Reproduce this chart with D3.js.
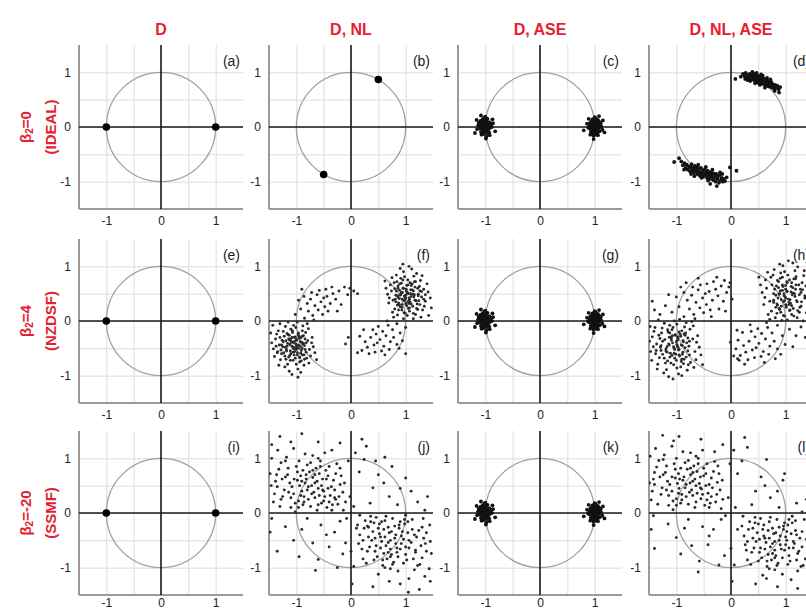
<!DOCTYPE html>
<html>
<head>
<meta charset="utf-8">
<script src="https://cdn.jsdelivr.net/npm/d3@7/dist/d3.min.js"></script>
<style>
  html, body { margin: 0; padding: 0; background: #fff; }
  svg { display: block; font-family: "Liberation Sans", Arial, sans-serif; }
</style>
</head>
<body>
<svg id="chart" width="806" height="612"></svg>
<script>
// ---------------- DATA ----------------
const colTitles = ["D", "D, NL", "D, ASE", "D, NL, ASE"];
const rowBeta = ["0", "4", "-20"];
const rowFiber = ["(IDEAL)", "(NZDSF)", "(SSMF)"];
const panelLetters = ["a","b","c","d","e","f","g","h","i","j","k","l"];
const tickLabels = [-1, 0, 1];
const gridValues = [-1, -0.5, 0, 0.5, 1];
const axisDomain = [-1.5, 1.5];

// ideal BPSK symbols
const symD = [[-1, 0], [1, 0]];
// symbols after nonlinear phase rotation
const symNL = [[0.50, 0.87], [-0.50, -0.87]];

// ASE-only clouds (D, ASE) - same look in c, g, k
const aseRight = [[1.02,0.03],[0.97,-0.05],[1.05,0.08],[0.93,0.01],[1.08,-0.02],[0.99,0.11],[1.01,-0.09],[0.95,0.06],[1.10,0.04],[0.96,-0.12],
[1.04,-0.06],[0.91,-0.03],[1.00,0.00],[1.06,0.13],[0.98,0.07],[1.03,-0.14],[0.94,0.10],[1.09,-0.08],[1.01,0.05],[0.97,0.02],
[1.12,0.01],[0.92,0.08],[1.05,-0.11],[0.99,-0.02],[1.07,0.06],[0.95,-0.07],[1.02,0.16],[0.88,-0.01],[1.03,0.09],[1.00,-0.05],
[0.96,0.14],[1.14,-0.05],[0.98,-0.16],[1.06,0.02],[0.93,-0.09],[1.01,0.12],[1.08,0.10],[0.90,0.04],[1.04,-0.01],[0.97,-0.10],
[1.11,0.07],[0.99,0.04],[1.02,-0.03],[0.94,0.00],[1.06,-0.15],[1.00,0.18],[0.86,0.06],[1.15,0.12],[0.92,-0.14],[1.03,0.05],
[0.80,-0.06],[1.18,-0.10],[0.98,-0.22],[1.08,0.20],[0.89,0.15]];
const aseLeft = [[-1.01,0.02],[-0.96,-0.04],[-1.06,0.07],[-0.94,0.03],[-1.09,-0.03],[-0.99,0.12],[-1.02,-0.08],[-0.95,0.05],[-1.11,0.02],[-0.97,-0.11],
[-1.04,-0.05],[-0.92,-0.02],[-1.00,0.01],[-1.05,0.14],[-0.98,0.08],[-1.03,-0.13],[-0.93,0.09],[-1.08,-0.09],[-1.01,0.06],[-0.97,0.00],
[-1.13,0.03],[-0.91,0.07],[-1.05,-0.12],[-0.99,-0.03],[-1.07,0.05],[-0.95,-0.08],[-1.02,0.17],[-0.88,0.00],[-1.03,0.10],[-1.00,-0.06],
[-0.96,0.15],[-1.15,-0.04],[-0.98,-0.17],[-1.06,0.01],[-0.93,-0.10],[-1.01,0.11],[-1.09,0.11],[-0.90,0.05],[-1.04,-0.02],[-0.97,-0.09],
[-1.12,0.08],[-0.99,0.03],[-1.02,-0.04],[-0.94,-0.01],[-1.07,-0.14],[-1.00,0.19],[-0.86,0.07],[-1.16,0.13],[-0.92,-0.15],[-1.03,0.04],
[-0.82,-0.08],[-1.19,-0.11],[-0.99,-0.21],[-1.08,0.21],[-0.87,0.14]];

// (d) D, NL, ASE with beta2 = 0
const dUpper = [[0.22,0.97],[0.25,0.93],[0.27,0.99],[0.29,0.91],[0.31,0.95],[0.33,0.89],[0.34,0.97],[0.36,0.92],[0.37,0.86],[0.38,0.95],
[0.40,0.90],[0.41,0.98],[0.42,0.87],[0.43,0.93],[0.44,0.84],[0.45,0.91],[0.46,0.88],[0.47,0.95],[0.48,0.82],[0.49,0.89],
[0.50,0.86],[0.51,0.93],[0.52,0.84],[0.53,0.90],[0.54,0.80],[0.55,0.87],[0.56,0.83],[0.57,0.91],[0.58,0.79],[0.59,0.85],
[0.60,0.82],[0.61,0.88],[0.62,0.77],[0.63,0.84],[0.64,0.80],[0.65,0.86],[0.66,0.75],[0.67,0.82],[0.68,0.78],[0.69,0.84],
[0.70,0.74],[0.71,0.80],[0.72,0.77],[0.74,0.82],[0.75,0.72],[0.76,0.78],[0.78,0.75],[0.79,0.70],[0.81,0.77],[0.83,0.72],
[0.85,0.75],[0.87,0.69],[0.90,0.73],[0.35,0.84],[0.30,0.86],[0.47,0.99],[0.58,0.94],[0.44,0.80],[0.53,0.77],[0.72,0.87],
[0.62,0.72],[0.26,0.88],[0.39,1.01],[0.80,0.66],[0.88,0.63],[0.08,0.88],[0.18,0.92],[0.55,0.96],[0.66,0.90],[0.51,0.80]];
const dLower = [[-0.88,-0.70],[-0.85,-0.66],[-0.83,-0.75],[-0.81,-0.69],[-0.79,-0.78],[-0.77,-0.72],[-0.75,-0.81],[-0.74,-0.74],[-0.72,-0.68],[-0.71,-0.79],
[-0.69,-0.75],[-0.68,-0.84],[-0.66,-0.71],[-0.65,-0.80],[-0.64,-0.76],[-0.62,-0.86],[-0.61,-0.73],[-0.60,-0.81],[-0.58,-0.77],[-0.57,-0.89],
[-0.56,-0.84],[-0.55,-0.75],[-0.53,-0.87],[-0.52,-0.80],[-0.51,-0.91],[-0.49,-0.83],[-0.48,-0.77],[-0.47,-0.88],[-0.45,-0.84],[-0.44,-0.93],
[-0.43,-0.80],[-0.41,-0.89],[-0.40,-0.85],[-0.39,-0.95],[-0.37,-0.82],[-0.36,-0.91],[-0.35,-0.87],[-0.33,-0.97],[-0.32,-0.85],[-0.31,-0.93],
[-0.29,-0.89],[-0.28,-1.00],[-0.27,-0.86],[-0.25,-0.95],[-0.24,-0.91],[-0.22,-1.02],[-0.21,-0.88],[-0.19,-0.97],[-0.17,-0.93],[-0.15,-1.00],
[-0.13,-0.95],[-0.11,-0.99],[-0.26,-1.08],[-0.67,-0.90],[-0.73,-0.86],[-0.86,-0.78],[-0.54,-0.93],[-0.42,-0.98],[-0.60,-0.69],[-0.46,-0.73],
[-0.34,-0.78],[-0.20,-0.83],[-0.91,-0.63],[-1.04,-0.64],[-0.95,-0.57],[-0.02,-0.74],[0.10,-0.80],[-0.38,-1.04],[-0.16,-0.86],[-0.08,-0.92]];

// (f) D, NL with beta2 = 4
const fLeftCore = [[-1.05,-0.40],[-0.92,-0.31],[-1.18,-0.52],[-0.98,-0.58],[-1.22,-0.28],[-0.85,-0.45],[-1.10,-0.15],[-1.31,-0.44],[-0.96,-0.22],[-1.14,-0.66],
[-0.79,-0.36],[-1.02,-0.49],[-1.27,-0.60],[-0.89,-0.62],[-1.38,-0.33],[-1.08,-0.30],[-0.94,-0.75],[-1.20,-0.10],[-0.83,-0.21],[-1.12,-0.43],
[-0.99,-0.35],[-1.33,-0.18],[-0.76,-0.52],[-1.16,-0.79],[-0.88,-0.09],[-1.25,-0.47],[-1.04,-0.62],[-0.93,-0.46],[-1.42,-0.51],[-1.07,-0.21],
[-0.81,-0.68],[-1.19,-0.36],[-0.97,-0.88],[-1.29,-0.71],[-0.71,-0.30],[-1.11,-0.55],[-0.90,-0.39],[-1.36,-0.24],[-1.01,-0.12],[-0.86,-0.81],
[-1.23,-0.58],[-0.95,-0.28],[-1.45,-0.40],[-1.06,-0.72],[-0.78,-0.14],[-1.15,-0.25],[-0.91,-0.54],[-1.30,-0.05],[-1.00,-0.44],[-0.84,-0.33],
[-1.21,-0.84],[-1.09,-0.38],[-0.74,-0.64],[-1.34,-0.56],[-0.98,-0.02],[-1.13,-0.92],[-0.87,-0.27],[-1.26,-0.35],[-1.03,-0.56],[-0.69,-0.47],
[-1.40,-0.65],[-0.94,-0.67],[-1.17,-0.46],[-0.82,-0.57],[-1.08,-0.98],[-1.24,-0.19],[-0.96,-0.50],[-1.47,-0.22],[-1.02,-0.29],[-0.77,-0.77],
[-1.12,-0.63],[-0.89,-0.18],[-1.32,-0.81],[-1.05,-0.08],[-0.72,-0.40],[-1.19,-0.70],[-0.92,-0.94],[-1.37,-0.46],[-0.85,-0.70],[-1.10,-0.33],
[-0.66,-0.58],[-1.28,-0.53],[-1.00,-0.79],[-0.80,-0.05],[-1.15,-0.02],[-0.63,-0.71],[-1.43,-0.08],[-0.97,-1.03],[-1.06,-0.48],[-0.88,-0.42],
[-1.03,-0.37],[-0.96,-0.44],[-1.12,-0.35],[-1.00,-0.52],[-1.08,-0.46],[-0.93,-0.38],[-1.16,-0.41],[-1.04,-0.30],[-0.98,-0.62],[-1.20,-0.48],
[-0.90,-0.50],[-1.06,-0.57],[-1.13,-0.26],[-0.95,-0.31],[-1.24,-0.38],[-1.01,-0.42],[-0.87,-0.41],[-1.10,-0.60],[-1.18,-0.55],[-0.97,-0.25],
[-1.07,-0.18],[-0.92,-0.59],[-1.27,-0.44],[-1.02,-0.68],[-0.84,-0.52],[-1.14,-0.33],[-0.99,-0.47],[-1.21,-0.64],[-0.89,-0.28],[-1.05,-0.51],
[-1.11,-0.72],[-0.94,-0.66],[-1.30,-0.30],[-0.82,-0.40],[-1.09,-0.39],[-1.17,-0.23],[-0.91,-0.73],[-1.35,-0.58],[-1.00,-0.33],[-0.86,-0.62]];
const fLeftTail = [[-0.85,0.05],[-0.78,0.18],[-0.70,0.10],[-0.66,0.28],[-0.60,0.20],[-0.92,0.22],[-0.55,0.35],[-0.48,0.26],[-0.74,0.40],[-0.44,0.45],
[-0.38,0.32],[-0.62,0.48],[-0.90,0.58],[-0.33,0.50],[-0.52,0.12],[-0.28,0.40],[-1.02,0.12],[-0.58,0.56],[-0.22,0.55],[-0.80,0.32],
[-0.42,0.18],[-0.68,0.02],[-0.96,0.38],[-0.35,0.62],[-0.18,0.30],[-0.50,0.42],[-0.86,0.45],[-0.25,0.18],[-0.72,0.52],[-0.46,0.58],
[-0.02,0.60],[0.05,0.55],[-0.06,0.48],[0.12,0.50],[-0.12,0.62]];
const fRightCore = [[1.00,0.42],[0.88,0.30],[1.14,0.55],[0.95,0.60],[1.21,0.31],[0.82,0.47],[1.07,0.18],[1.29,0.44],[0.93,0.25],[1.12,0.68],
[0.77,0.38],[1.03,0.51],[1.25,0.63],[0.86,0.64],[1.36,0.36],[1.06,0.32],[0.91,0.78],[1.18,0.12],[0.80,0.22],[1.10,0.45],
[0.97,0.37],[1.31,0.20],[0.74,0.55],[1.15,0.82],[0.85,0.11],[1.23,0.49],[1.02,0.65],[0.90,0.48],[1.41,0.53],[1.05,0.23],
[0.79,0.70],[1.17,0.38],[0.96,0.90],[1.27,0.74],[0.69,0.33],[1.09,0.57],[0.88,0.41],[1.34,0.27],[0.99,0.14],[0.83,0.84],
[1.22,0.60],[0.93,0.30],[1.45,0.42],[1.04,0.75],[0.76,0.16],[1.13,0.27],[0.89,0.56],[1.28,0.07],[0.98,0.46],[0.82,0.35],
[1.20,0.87],[1.07,0.40],[0.72,0.66],[1.33,0.58],[0.96,0.04],[1.11,0.95],[0.85,0.29],[1.24,0.37],[1.01,0.58],[0.67,0.49],
[1.39,0.68],[0.92,0.69],[1.16,0.48],[0.80,0.59],[1.06,1.00],[1.22,0.21],[0.94,0.52],[1.47,0.24],[1.00,0.31],[0.75,0.79],
[1.10,0.65],[0.87,0.20],[1.30,0.83],[1.03,0.10],[0.70,0.42],[1.18,0.72],[0.90,0.96],[1.36,0.48],[0.84,0.72],[1.08,0.35],
[0.64,0.60],[1.26,0.55],[0.98,0.81],[0.78,0.07],[1.14,0.04],[0.62,0.73],[1.42,0.10],[0.95,1.04],[1.05,0.50],[0.86,0.44],
[0.98,0.45],[1.05,0.36],[0.91,0.48],[1.02,0.28],[1.09,0.50],[0.94,0.40],[1.15,0.44],[1.01,0.55],[0.87,0.33],[1.19,0.37],
[0.96,0.60],[1.07,0.24],[1.12,0.57],[0.92,0.52],[1.23,0.46],[0.99,0.39],[0.85,0.46],[1.10,0.31],[1.17,0.62],[1.04,0.66],
[0.93,0.20],[1.08,0.70],[1.26,0.30],[0.97,0.15],[0.83,0.55],[1.13,0.49],[1.00,0.47],[1.20,0.23],[0.89,0.68],[1.06,0.42],
[1.14,0.14],[0.95,0.75],[1.29,0.54],[0.81,0.40],[1.03,0.52],[1.16,0.72],[0.90,0.26],[1.33,0.40],[1.01,0.33],[0.86,0.60]];
const fRightTail = [[0.84,-0.05],[0.76,-0.16],[0.68,-0.08],[0.64,-0.27],[0.58,-0.19],[0.90,-0.22],[0.53,-0.34],[0.46,-0.24],[0.72,-0.38],[0.42,-0.44],
[0.36,-0.30],[0.60,-0.46],[0.88,-0.50],[0.30,-0.48],[0.50,-0.10],[0.26,-0.38],[1.00,-0.12],[0.56,-0.55],[0.20,-0.54],[0.78,-0.30],
[0.40,-0.16],[0.66,0.00],[0.94,-0.36],[0.33,-0.60],[0.16,-0.28],[0.48,-0.40],[0.84,-0.43],[0.23,-0.16],[0.70,-0.52],[0.44,-0.57],
[1.00,-0.60],[0.12,-0.58],[0.62,-0.62],[-0.05,-0.30],[-0.10,-0.42]];

// (h) D, NL, ASE with beta2 = 4
const hLeftCore = [[-1.00,-0.38],[-0.84,-0.26],[-1.19,-0.55],[-0.95,-0.62],[-1.27,-0.22],[-0.77,-0.46],[-1.12,-0.08],[-1.36,-0.42],[-0.90,-0.18],[-1.16,-0.73],
[-0.70,-0.33],[-1.04,-0.50],[-1.31,-0.67],[-0.86,-0.70],[-1.44,-0.29],[-1.07,-0.27],[-0.92,-0.84],[-1.22,-0.04],[-0.75,-0.15],[-1.13,-0.44],
[-0.97,-0.32],[-1.39,-0.12],[-0.66,-0.56],[-1.18,-0.89],[-0.82,-0.03],[-1.29,-0.48],[-1.03,-0.68],[-0.89,-0.45],[-1.47,-0.56],[-1.08,-0.16],
[-0.74,-0.76],[-1.21,-0.34],[-0.96,-0.97],[-1.34,-0.79],[-0.61,-0.27],[-1.11,-0.59],[-0.87,-0.38],[-1.41,-0.19],[-0.99,-0.06],[-0.80,-0.90],
[-1.25,-0.61],[-0.93,-0.24],[-1.49,-0.37],[-1.05,-0.80],[-0.69,-0.09],[-1.15,-0.20],[-0.88,-0.57],[-1.33,0.02],[-0.98,-0.46],[-0.79,-0.31],
[-1.23,-0.95],[-1.09,-0.35],[-0.64,-0.71],[-1.38,-0.60],[-0.94,0.03],[-1.14,-1.02],[-0.83,-0.22],[-1.30,-0.32],[-1.01,-0.61],[-0.58,-0.48],
[-1.45,-0.72],[-0.91,-0.74],[-1.17,-0.47],[-0.76,-0.62],[-1.06,-1.06],[-1.26,-0.13],[-0.95,-0.52],[-1.48,-0.10],[-1.02,-0.25],[-0.68,-0.85],
[-1.12,-0.66],[-0.85,-0.11],[-1.35,-0.88],[-1.04,0.00],[-0.63,-0.39],[-1.20,-0.77],[-0.90,-1.00],[-1.42,-0.47],[-0.78,-0.80],[-1.10,-0.29],
[-0.55,-0.62],[-1.28,-0.54],[-0.99,-0.86],[-0.72,-0.01],[-0.52,-0.80],
[-0.98,-0.35],[-0.91,-0.44],[-1.09,-0.31],[-0.96,-0.53],[-1.05,-0.47],[-0.88,-0.36],[-1.14,-0.42],[-1.02,-0.26],[-0.94,-0.64],[-1.19,-0.51],
[-0.84,-0.49],[-1.04,-0.59],[-1.12,-0.22],[-0.92,-0.28],[-1.25,-0.37],[-0.99,-0.43],[-0.81,-0.40],[-1.08,-0.63],[-1.17,-0.57],[-0.95,-0.20],
[-1.06,-0.12],[-0.89,-0.61],[-1.28,-0.45],[-1.00,-0.72],[-0.79,-0.55],[-1.13,-0.30],[-0.97,-0.48],[-1.22,-0.68],[-0.86,-0.24],[-1.03,-0.52],
[-1.10,-0.77],[-0.90,-0.70],[-1.32,-0.26],[-0.76,-0.37],[-1.07,-0.40],[-1.16,-0.16],[-0.87,-0.78],[-1.37,-0.54],[-0.98,-0.29],[-0.82,-0.66]];
const hLeftTail = [[-0.86,0.08],[-0.76,0.22],[-0.68,0.12],[-0.64,0.34],[-0.57,0.24],[-0.95,0.26],[-0.52,0.42],[-0.45,0.30],[-0.72,0.47],[-0.40,0.54],
[-0.34,0.38],[-0.60,0.57],[-0.92,0.62],[-0.28,0.58],[-0.50,0.15],[-0.24,0.46],[-1.08,0.16],[-0.56,0.66],[-0.18,0.64],[-0.80,0.38],
[-0.38,0.20],[-0.66,0.04],[-1.00,0.44],[-0.32,0.72],[-0.14,0.36],[-0.47,0.50],[-0.86,0.52],[-0.22,0.22],[-0.70,0.62],[-0.44,0.68],
[-0.04,0.62],[0.02,0.40],[-0.08,0.52],[-1.20,0.28],[-1.44,0.36],[-1.30,0.12],[-1.14,0.48],[-0.60,0.78],[-0.26,0.80],[-0.10,0.18],
[-0.02,0.70],[-1.40,0.20],[-0.82,0.70],[-0.36,0.08],[-0.12,0.74]];
const hRightCore = [[1.00,0.42],[0.85,0.29],[1.18,0.58],[0.94,0.66],[1.26,0.25],[0.78,0.50],[1.11,0.12],[1.35,0.46],[0.89,0.21],[1.15,0.77],
[0.71,0.36],[1.03,0.54],[1.30,0.70],[0.85,0.74],[1.43,0.32],[1.06,0.30],[0.91,0.88],[1.21,0.06],[0.74,0.18],[1.12,0.48],
[0.96,0.35],[1.38,0.15],[0.65,0.60],[1.17,0.92],[0.81,0.06],[1.28,0.52],[1.02,0.72],[0.88,0.49],[1.46,0.60],[1.07,0.19],
[0.73,0.80],[1.20,0.37],[0.95,1.01],[1.33,0.83],[0.60,0.30],[1.10,0.63],[0.86,0.42],[1.40,0.22],[0.98,0.09],[0.79,0.94],
[1.24,0.66],[0.92,0.27],[1.48,0.40],[1.04,0.84],[0.68,0.12],[1.14,0.23],[0.87,0.61],[1.32,0.00],[0.97,0.50],[0.78,0.34],
[1.22,0.99],[1.08,0.39],[0.63,0.75],[1.37,0.64],[0.93,0.01],[1.13,1.06],[0.82,0.25],[1.29,0.35],[1.00,0.65],[0.57,0.52],
[1.44,0.77],[0.90,0.78],[1.16,0.50],[0.75,0.66],[1.05,1.10],[1.25,0.16],[0.94,0.56],[1.47,0.12],[1.01,0.28],[0.67,0.89],
[1.11,0.70],[0.84,0.14],[1.34,0.92],[1.03,0.02],[0.62,0.43],[1.19,0.81],[0.89,1.04],[1.41,0.51],[0.77,0.84],[1.09,0.32],
[0.54,0.66],[1.27,0.58],[0.98,0.90],[0.71,0.03],[0.51,0.80],
[0.97,0.46],[1.06,0.34],[0.89,0.50],[1.01,0.25],[1.10,0.53],[0.92,0.39],[1.17,0.45],[1.00,0.58],[0.84,0.31],[1.21,0.35],
[0.95,0.63],[1.08,0.20],[1.13,0.61],[0.90,0.55],[1.25,0.48],[0.98,0.37],[0.82,0.47],[1.11,0.28],[1.19,0.66],[1.03,0.70],
[0.91,0.16],[1.07,0.75],[1.28,0.27],[0.96,0.10],[0.80,0.58],[1.14,0.51],[0.99,0.44],[1.22,0.19],[0.87,0.72],[1.05,0.40],
[1.15,0.09],[0.94,0.80],[1.31,0.57],[0.78,0.38],[1.02,0.54],[1.18,0.77],[0.88,0.23],[1.35,0.42],[1.00,0.30],[0.83,0.64]];
const hRightTail = [[0.85,-0.08],[0.75,-0.22],[0.67,-0.12],[0.63,-0.33],[0.56,-0.23],[0.94,-0.27],[0.51,-0.41],[0.44,-0.29],[0.71,-0.46],[0.39,-0.53],
[0.33,-0.37],[0.59,-0.56],[0.91,-0.61],[0.27,-0.57],[0.49,-0.14],[0.23,-0.45],[1.07,-0.15],[0.55,-0.65],[0.17,-0.63],[0.79,-0.37],
[0.37,-0.19],[0.65,-0.03],[0.99,-0.43],[0.31,-0.71],[0.13,-0.35],[0.46,-0.49],[0.85,-0.51],[0.21,-0.21],[0.69,-0.61],[0.43,-0.67],
[0.05,-0.64],[-0.01,-0.39],[0.09,-0.51],[1.19,-0.27],[1.36,-0.30],[1.28,-0.11],[1.13,-0.47],[0.61,-0.76],[0.25,-0.79],[0.11,-0.17],
[0.15,-0.72],[1.40,-0.19],[0.81,-0.69],[0.35,-0.07],[0.12,-0.69]];

// (j) D, NL with beta2 = -20
const jLeft = [[-0.72,0.50],[-0.45,0.62],[-1.05,0.35],[-0.88,0.78],[-0.30,0.28],[-1.20,0.66],[-0.60,0.15],[-0.95,0.95],[-0.52,0.42],[-1.35,0.48],
[-0.78,0.25],[-0.40,0.85],[-1.10,0.10],[-0.66,0.70],[-0.20,0.52],[-1.28,0.92],[-0.84,0.55],[-0.58,0.32],[-1.42,0.20],[-0.35,0.05],
[-0.98,0.60],[-0.70,1.05],[-0.15,0.38],[-1.15,0.82],[-0.50,0.22],[-0.90,0.40],[-1.48,0.72],[-0.62,0.58],[-0.28,0.72],[-1.02,0.18],
[-0.80,0.88],[-0.42,0.45],[-1.25,0.30],[-0.56,0.95],[-0.10,0.20],[-0.92,0.68],[-0.68,0.38],[-1.38,0.58],[-0.32,0.60],[-1.08,0.48],
[-0.74,0.12],[-0.48,1.10],[-1.18,1.02],[-0.86,0.30],[-0.24,0.16],[-0.64,0.82],[-1.32,0.80],[-0.96,0.22],[-0.38,0.32],[-0.82,0.62],
[-1.45,1.00],[-0.54,0.50],[-0.18,0.68],[-1.12,0.55],[-0.76,0.75],[-0.44,0.10],[-1.00,0.85],[-0.60,0.45],[-1.30,0.12],[-0.26,0.90],
[-0.88,0.15],[-0.70,0.65],[-1.22,0.42],[-0.36,0.48],[-1.05,1.18],[-0.58,0.72],[-0.14,0.05],[-0.94,0.50],[-1.40,0.35],[-0.66,0.28],
[-0.46,0.78],[-1.16,0.70],[-0.80,0.42],[-0.22,0.30],[-1.02,0.02],[-0.52,0.62],[-1.34,1.15],[-0.74,0.92],[-0.40,0.20],[-0.90,0.58],
[-1.26,0.62],[-0.62,0.05],[-0.30,0.42],[-0.98,0.75],[-0.72,0.35],[-1.46,0.50],[-0.48,0.30],[-0.84,1.08],[-0.12,0.55],[-1.10,0.28],
[-0.56,0.85],[-0.78,0.48],[-1.20,0.95],[-0.34,0.15],[-0.92,0.32],[-0.66,0.55],[-1.36,0.70],[-0.20,0.82],[-1.04,0.62],[-0.50,0.40],
[-0.86,0.20],[-0.60,1.00],[-1.14,0.38],[-0.42,0.68],[-0.96,0.10],[-0.70,0.78],[-1.28,0.25],[-0.28,0.25],[-0.82,0.70],[-0.54,0.18]];
const jRight = [[0.72,-0.50],[0.46,-0.60],[1.04,-0.36],[0.86,-0.80],[0.32,-0.26],[1.18,-0.68],[0.62,-0.14],[0.96,-0.92],[0.54,-0.44],[1.33,-0.46],
[0.80,-0.24],[0.42,-0.86],[1.12,-0.12],[0.68,-0.72],[0.22,-0.50],[1.26,-0.94],[0.82,-0.56],[0.60,-0.30],[1.44,-0.22],[0.36,-0.06],
[1.00,-0.62],[0.72,-1.02],[0.16,-0.40],[1.14,-0.84],[0.52,-0.20],[0.92,-0.42],[1.47,-0.74],[0.64,-0.60],[0.30,-0.70],[1.04,-0.16],
[0.78,-0.90],[0.44,-0.46],[1.24,-0.32],[0.58,-0.96],[0.12,-0.22],[0.90,-0.66],[0.70,-0.36],[1.36,-0.56],[0.34,-0.62],[1.06,-0.50],
[0.76,-0.10],[0.50,-1.12],[1.16,-1.04],[0.88,-0.28],[0.26,-0.14],[0.66,-0.84],[1.30,-0.82],[0.98,-0.20],[0.40,-0.34],[0.84,-0.64],
[1.43,-1.02],[0.56,-0.52],[0.20,-0.66],[1.10,-0.54],[0.74,-0.76],[0.46,-0.08],[1.02,-0.86],[0.62,-0.44],[1.32,-0.10],[0.28,-0.92],
[0.90,-0.16],[0.72,-0.66],[1.20,-0.44],[0.38,-0.50],[1.06,-1.20],[0.60,-0.74],[0.16,-0.04],[0.96,-0.48],[1.38,-0.36],[0.68,-0.26],
[0.48,-0.80],[1.18,-0.72],[0.82,-0.40],[0.24,-0.28],[1.00,-0.04],[0.54,-0.64],[1.35,-1.16],[0.76,-0.94],[0.42,-0.18],[0.92,-0.56],
[1.28,-0.60],[0.64,-0.06],[0.32,-0.44],[1.00,-0.76],[0.74,-0.34],[1.45,-0.52],[0.50,-0.28],[0.86,-1.06],[0.14,-0.56],[1.12,-0.30],
[0.58,-0.86],[0.80,-0.46],[1.22,-0.96],[0.36,-0.16],[0.94,-0.34],[0.68,-0.54],[1.38,-0.70],[0.22,-0.84],[1.06,-0.64],[0.52,-0.38],
[0.88,-0.22],[0.62,-1.00],[1.16,-0.40],[0.44,-0.70],[0.98,-0.12],[0.72,-0.80],[1.30,-0.26],[0.30,-0.24],[0.84,-0.72],[0.56,-0.16]];
const jSpread = [[0.28,1.22],[0.24,0.98],[0.62,1.02],[1.00,0.64],[0.40,0.46],[0.70,0.30],[1.22,0.20],[0.15,0.75],[0.50,0.70],[0.85,0.15],
[0.08,1.10],[1.35,0.05],[0.35,0.18],[0.90,0.45],[0.60,0.55],[-1.35,-0.70],[-0.90,-0.30],[-0.70,-0.55],[-0.40,-0.62],[-0.25,-1.00],
[-0.30,-0.35],[-1.20,-0.25],[-0.80,-0.10],[-0.55,-0.22],[-1.05,-0.50],[-0.15,-0.75],[-0.60,-0.85],[-1.45,-0.10],[-0.20,-0.15],[-0.95,-0.80],
[0.02,-1.30],[0.05,-0.98],[0.40,-1.35],[0.90,-1.30],[1.25,-1.40],[0.70,-1.25],[-1.30,1.40],[-0.90,1.45],[-0.60,1.30],[0.20,1.35],
[-0.20,1.28],[-1.10,1.30],[-0.35,1.15],[-0.05,0.95],[-0.02,0.30],[0.05,0.12],[-0.08,-0.10],[0.10,-0.28],[1.45,-1.25],[1.40,0.30],
[-1.48,-0.35],[-1.45,1.25],[0.45,0.95],[1.10,0.40],[0.75,0.85],[-0.45,-0.40],[-0.10,-0.55],[0.00,-0.70],[-0.65,-1.05],[1.05,-1.45]];

// (l) D, NL, ASE with beta2 = -20
const lLeft = [[-0.75,0.55],[-0.50,0.68],[-1.08,0.40],[-0.92,0.82],[-0.36,0.30],[-1.24,0.70],[-0.64,0.20],[-1.00,1.00],[-0.56,0.46],[-1.40,0.52],
[-0.82,0.30],[-0.44,0.90],[-1.14,0.14],[-0.70,0.74],[-0.25,0.56],[-1.32,0.96],[-0.88,0.60],[-0.62,0.36],[-1.46,0.24],[-0.40,0.10],
[-1.02,0.64],[-0.74,1.10],[-0.20,0.42],[-1.18,0.86],[-0.55,0.26],[-0.95,0.45],[-0.66,0.62],[-0.32,0.76],[-1.06,0.22],[-0.84,0.92],
[-0.46,0.50],[-1.28,0.34],[-0.60,1.00],[-0.15,0.25],[-0.96,0.72],[-0.72,0.42],[-1.42,0.62],[-0.36,0.64],[-1.12,0.52],[-0.78,0.16],
[-0.52,1.15],[-1.22,1.06],[-0.90,0.34],[-0.28,0.20],[-0.68,0.86],[-1.36,0.84],[-1.00,0.26],[-0.42,0.36],[-0.86,0.66],[-1.48,1.04],
[-0.58,0.54],[-0.22,0.72],[-1.16,0.58],[-0.80,0.80],[-0.48,0.14],[-1.04,0.90],[-0.64,0.50],[-1.34,0.16],[-0.30,0.94],[-0.92,0.18],
[-0.74,0.70],[-1.26,0.46],[-0.40,0.52],[-1.08,1.22],[-0.62,0.76],[-0.18,0.08],[-0.98,0.54],[-1.44,0.40],[-0.70,0.32],[-0.50,0.82],
[-1.20,0.74],[-0.84,0.46],[-0.26,0.34],[-1.06,0.06],[-0.56,0.66],[-1.38,1.18],[-0.78,0.96],[-0.44,0.24],[-0.94,0.62],[-1.30,0.66],
[-0.66,0.10],[-0.34,0.46],[-1.02,0.80],[-0.76,0.38],[-1.49,0.55],[-0.52,0.34],[-0.88,1.12],[-0.16,0.60],[-1.14,0.32],[-0.60,0.90],
[-0.82,0.52],[-1.24,0.98],[-0.38,0.18],[-0.96,0.36],[-0.70,0.58],[-1.40,0.74],[-0.24,0.86],[-1.08,0.66],[-0.54,0.44],[-0.90,0.24],
[-0.64,1.04],[-1.18,0.42],[-0.46,0.72],[-1.00,0.14],[-0.74,0.82]];
const lRight = [[0.80,-0.52],[0.54,-0.64],[1.10,-0.38],[0.94,-0.82],[0.40,-0.28],[1.24,-0.70],[0.70,-0.16],[1.04,-0.94],[0.62,-0.46],[1.38,-0.48],
[0.88,-0.26],[0.50,-0.88],[1.18,-0.14],[0.76,-0.74],[0.30,-0.52],[1.32,-0.96],[0.90,-0.58],[0.68,-0.32],[1.46,-0.24],[0.44,-0.08],
[1.06,-0.64],[0.80,-1.04],[0.24,-0.42],[1.20,-0.86],[0.60,-0.22],[1.00,-0.44],[0.72,-0.62],[0.38,-0.72],[1.12,-0.18],[0.86,-0.92],
[0.52,-0.48],[1.30,-0.34],[0.66,-0.98],[0.20,-0.24],[0.98,-0.68],[0.78,-0.38],[1.42,-0.58],[0.42,-0.64],[1.14,-0.52],[0.84,-0.12],
[0.58,-1.14],[1.22,-1.06],[0.96,-0.30],[0.34,-0.16],[0.74,-0.86],[1.36,-0.84],[1.04,-0.22],[0.48,-0.36],[0.92,-0.66],[1.48,-1.04],
[0.64,-0.54],[0.28,-0.68],[1.16,-0.56],[0.82,-0.78],[0.54,-0.10],[1.08,-0.88],[0.70,-0.46],[1.34,-0.12],[0.36,-0.94],[0.98,-0.18],
[0.80,-0.68],[1.26,-0.46],[0.46,-0.52],[1.10,-1.22],[0.68,-0.76],[0.22,-0.06],[1.02,-0.50],[1.44,-0.38],[0.76,-0.28],[0.56,-0.82],
[1.22,-0.74],[0.90,-0.42],[0.32,-0.30],[1.12,-0.06],[0.62,-0.66],[1.40,-1.18],[0.84,-0.96],[0.50,-0.20],[1.00,-0.58],[1.30,-0.62],
[0.72,-0.08],[0.40,-0.46],[1.06,-0.78],[0.82,-0.36],[1.49,-0.55],[0.58,-0.30],[0.94,-1.12],[0.26,-0.58],[1.18,-0.32],[0.66,-0.88],
[0.88,-0.50],[1.28,-0.98],[0.44,-0.18],[1.02,-0.34],[0.76,-0.56],[1.44,-0.72],[0.30,-0.86],[1.14,-0.64],[0.60,-0.42],[0.96,-0.24],
[0.70,-1.02],[1.20,-0.40],[0.52,-0.72],[1.06,-0.12],[0.80,-0.82]];
const lSpread = [[0.30,1.20],[0.20,0.95],[0.65,0.98],[0.95,0.60],[0.45,0.40],[0.72,0.28],[1.20,0.18],[0.12,0.72],[0.55,0.66],[0.88,0.10],
[0.05,1.15],[1.30,0.02],[0.38,0.15],[0.85,0.40],[0.62,0.50],[-1.40,-0.65],[-0.85,-0.28],[-0.72,-0.60],[-0.42,-0.58],[-0.22,-0.95],
[-0.32,-0.30],[-1.15,-0.20],[-0.78,-0.12],[-0.52,-0.25],[-1.00,-0.45],[-0.12,-0.78],[-0.58,-0.88],[-1.42,-0.05],[-0.18,-0.12],[-0.92,-0.75],
[0.02,-1.25],[0.06,-0.95],[0.45,-1.30],[0.85,-1.35],[1.22,-1.38],[0.65,-1.20],[-1.25,1.42],[-0.95,1.40],[-0.55,1.35],[0.25,1.38],
[-0.15,1.25],[-1.05,1.32],[-0.30,1.12],[-0.02,0.90],[-0.05,0.28],[0.08,0.10],[-0.10,-0.05],[0.12,-0.30],[1.42,-1.20],[1.38,0.25],
[-1.46,-0.30],[-0.40,-0.42],[0.00,-0.65],[0.98,0.72],[-0.60,-1.08]];

// ---------------- LAYOUT ----------------
const colCenters = [161, 351, 540, 731];
const rowCenters = [127, 321, 513];
const xLabelPad = [7, 7, 3];
const HALF = 82;
const RED = "#e5202e";

const panels = [
  { big: symD }, { big: symNL }, { cloud: [aseLeft, aseRight], dense: true }, { cloud: [dUpper, dLower], dense: true },
  { big: symD }, { cloud: [fLeftCore, fLeftTail, fRightCore, fRightTail] }, { cloud: [aseLeft, aseRight], dense: true }, { cloud: [hLeftCore, hLeftTail, hRightCore, hRightTail] },
  { big: symD }, { cloud: [jLeft, jRight, jSpread] }, { cloud: [aseLeft, aseRight], dense: true }, { cloud: [lLeft, lRight, lSpread] }
];

const svg = d3.select("#chart");
const defs = svg.append("defs");

panels.forEach((p, i) => {
  const r = Math.floor(i / 4), c = i % 4;
  const cx = colCenters[c], cy = rowCenters[r];
  const x = d3.scaleLinear().domain(axisDomain).range([cx - HALF, cx + HALF]);
  const y = d3.scaleLinear().domain(axisDomain).range([cy + HALF, cy - HALF]);
  const g = svg.append("g");

  defs.append("clipPath").attr("id", "clip" + i)
    .append("rect").attr("x", x(-1.5)).attr("y", y(1.5))
    .attr("width", x(1.5) - x(-1.5)).attr("height", y(-1.5) - y(1.5));

  // grid lines
  g.append("g").attr("transform", `translate(0,${y(-1.5)})`)
    .call(d3.axisBottom(x).tickValues(gridValues).tickSize(-(y(-1.5) - y(1.5))).tickFormat(""))
    .call(s => s.select(".domain").remove())
    .call(s => s.selectAll("line").attr("stroke", "#dcdcdc").attr("stroke-width", 1));
  g.append("g").attr("transform", `translate(${x(-1.5)},0)`)
    .call(d3.axisLeft(y).tickValues(gridValues).tickSize(-(x(1.5) - x(-1.5))).tickFormat(""))
    .call(s => s.select(".domain").remove())
    .call(s => s.selectAll("line").attr("stroke", "#dcdcdc").attr("stroke-width", 1));

  // unit circle
  g.append("circle").attr("cx", x(0)).attr("cy", y(0)).attr("r", x(1) - x(0))
    .attr("fill", "none").attr("stroke", "#a0a0a0").attr("stroke-width", 1.3);

  // tick labels + frame axes
  const ax = g.append("g").attr("transform", `translate(0,${y(-1.5)})`)
    .call(d3.axisBottom(x).tickValues(tickLabels).tickSize(0).tickPadding(xLabelPad[r]).tickFormat(d => String(d)));
  const ay = g.append("g").attr("transform", `translate(${x(-1.5)},0)`)
    .call(d3.axisLeft(y).tickValues(tickLabels).tickSize(0).tickPadding(8).tickFormat(d => String(d)));
  [ax, ay].forEach(a => {
    a.select(".domain").attr("stroke", "#9a9a9a").attr("stroke-width", 2);
    a.selectAll("text").attr("font-size", 12).attr("fill", "#222")
      .attr("font-family", "'Liberation Sans', Arial, sans-serif");
  });
  ax.select(".domain").attr("d", `M${x(-1.5)},0H${x(1.5)}`);
  ay.select(".domain").attr("d", `M0,${y(-1.5)}V${y(1.5)}`);

  // zero cross
  g.append("line").attr("x1", x(0)).attr("x2", x(0)).attr("y1", y(-1.5)).attr("y2", y(1.5))
    .attr("stroke", "#1a1a1a").attr("stroke-width", 1.6);
  g.append("line").attr("x1", x(-1.5)).attr("x2", x(1.5)).attr("y1", y(0)).attr("y2", y(0))
    .attr("stroke", "#1a1a1a").attr("stroke-width", 1.6);

  const pts = g.append("g").attr("clip-path", `url(#clip${i})`);
  if (p.big) {
    pts.selectAll("circle").data(p.big).join("circle")
      .attr("cx", d => x(d[0])).attr("cy", d => y(d[1])).attr("r", 3.8).attr("fill", "#000");
  } else {
    const all = p.cloud.flat();
    pts.selectAll("circle").data(all).join("circle")
      .attr("cx", d => x(d[0])).attr("cy", d => y(d[1]))
      .attr("r", p.dense ? 1.9 : 1.45)
      .attr("fill", p.dense ? "#111" : "#2a2a2a");
  }

  // panel letter
  g.append("text").attr("x", x(1.5) - 3).attr("y", y(1.5) + 21)
    .attr("text-anchor", "end").attr("font-size", 14).attr("fill", "#222")
    .text(`(${panelLetters[i]})`);
});

// column titles
svg.selectAll("text.coltitle").data(colTitles).join("text").attr("class", "coltitle")
  .attr("x", (d, i) => colCenters[i]).attr("y", 35)
  .attr("text-anchor", "middle").attr("font-size", 16).attr("font-weight", "bold")
  .attr("fill", RED).text(d => d);

// row labels
rowCenters.forEach((cy, r) => {
  const t1 = svg.append("text").attr("transform", `translate(25,${cy}) rotate(-90)`)
    .attr("text-anchor", "middle").attr("dominant-baseline", "central")
    .attr("font-size", 15).attr("font-weight", "bold").attr("fill", RED);
  t1.append("tspan").text("β");
  t1.append("tspan").attr("font-size", 10).attr("dy", 4).text("2");
  t1.append("tspan").attr("dy", -4).text("=" + rowBeta[r]);
  svg.append("text").attr("transform", `translate(50,${cy}) rotate(-90)`)
    .attr("text-anchor", "middle").attr("dominant-baseline", "central")
    .attr("font-size", 15).attr("font-weight", "bold").attr("fill", RED)
    .text(rowFiber[r]);
});
</script>
</body>
</html>
